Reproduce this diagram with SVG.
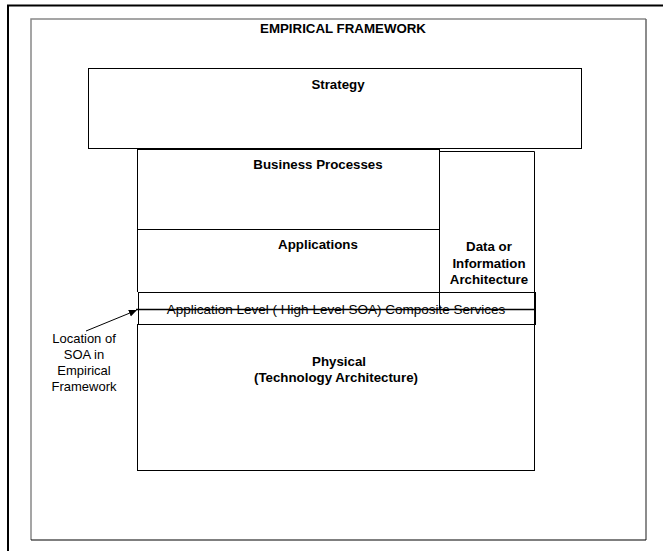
<svg xmlns="http://www.w3.org/2000/svg" width="663" height="551" viewBox="0 0 663 551">
<style>
.box{fill:none;stroke:#000;stroke-width:1}
.b{font-family:"Liberation Sans",Arial,sans-serif;font-size:13.3px;font-weight:bold;fill:#000;text-anchor:middle}
.d{font-family:"Liberation Sans",Arial,sans-serif;font-size:13.3px;font-weight:bold;fill:#000;text-anchor:middle}
.r{font-family:"Liberation Sans",Arial,sans-serif;font-size:13px;fill:#000;text-anchor:middle}
.s{font-family:"Liberation Sans",Arial,sans-serif;font-size:13.5px;fill:#000;text-anchor:middle}
</style>
<defs>
<marker id="ah" markerWidth="8" markerHeight="8" refX="7" refY="4" orient="auto" markerUnits="userSpaceOnUse">
<path d="M0,0.5 L8,4 L0,7.5 Z" fill="#000"/>
</marker>
</defs>
<rect width="663" height="551" fill="#fff"/>
<g id="outer-frame">
<path d="M8,560 L8,5.5 L670,5.5" fill="none" stroke="#000" stroke-width="2"/>
</g>
<g id="framework">
<path d="M31,540 L31,19 L646,19" fill="none" stroke="#888" stroke-width="1.5"/>
<path d="M646,19 L646,540" fill="none" stroke="#666" stroke-width="1.5"/>
<path d="M31,540 L646,540" fill="none" stroke="#000" stroke-width="1.2"/>
<text class="b" x="343" y="33">EMPIRICAL FRAMEWORK</text>
</g>
<g id="strategy">
<rect class="box" x="88.5" y="68.5" width="493" height="80"/>
<text class="b" x="338" y="89">Strategy</text>
</g>
<g id="business-processes">
<rect class="box" x="137.5" y="149.5" width="302" height="80"/>
<text class="b" x="318" y="169">Business Processes</text>
</g>
<g id="data-architecture">
<path class="box" d="M439.5,151.5 L534.5,151.5 L534.5,324"/>
<path class="box" d="M439.5,151.5 L439.5,309"/>
<text class="d" x="489" y="251">Data or</text>
<text class="d" x="489" y="267.5">Information</text>
<text class="d" x="489" y="284">Architecture</text>
</g>
<g id="applications">
<path class="box" d="M137.5,229.5 L137.5,292"/>
<text class="b" x="318" y="249">Applications</text>
</g>
<g id="soa-layer">
<rect class="box" x="138.5" y="292.5" width="397" height="32"/>
<text class="s" x="336" y="313.5">Application Level ( High Level SOA) Composite Services</text>
</g>
<g id="physical">
<rect class="box" x="137.5" y="324.5" width="397" height="146"/>
<text class="b" x="339" y="366">Physical</text>
<text class="b" x="336" y="382">(Technology Architecture)</text>
</g>
<g id="soa-location">
<text class="r" x="84" y="343">Location of</text>
<text class="r" x="84" y="359">SOA in</text>
<text class="r" x="84" y="375">Empirical</text>
<text class="r" x="84" y="391">Framework</text>
</g>
<g id="connectors">
<path d="M86,331 L136,310.5" fill="none" stroke="#000" stroke-width="1" marker-end="url(#ah)"/>
<path d="M136,309.5 L535,309.5" fill="none" stroke="#000" stroke-width="1.5"/>
</g>
</svg>
